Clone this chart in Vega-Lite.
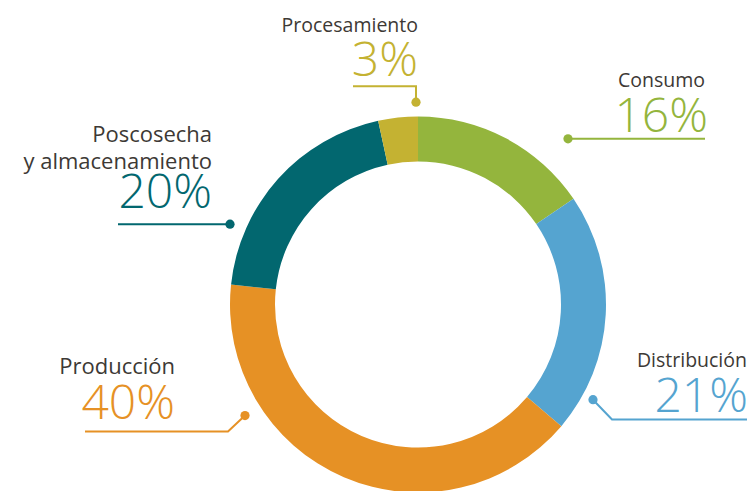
{
  "$schema": "https://vega.github.io/schema/vega-lite/v6.json",
  "width": 755,
  "height": 491,
  "autosize": {"type": "fit", "contains": "padding"},
  "padding": 0,
  "background": "white",
  "config": {"view": {"stroke": null}, "text": {"font": "Open Sans"}},
  "datasets": {
    "sectores": [
      {"categoria": "Consumo", "porcentaje": 15.5, "orden": 1},
      {"categoria": "Distribución", "porcentaje": 20.7, "orden": 2},
      {"categoria": "Producción", "porcentaje": 40.5, "orden": 3},
      {"categoria": "Poscosecha y almacenamiento", "porcentaje": 19.9, "orden": 4},
      {"categoria": "Procesamiento", "porcentaje": 3.4, "orden": 5}
    ],
    "etiquetas": [
      {"categoria": "Procesamiento", "etiqueta": "Procesamiento", "pct": "3%", "ex": 0, "ey": 275, "px": 0, "py": 230, "dx": -2, "dy": 204},
      {"categoria": "Consumo", "etiqueta": "Consumo", "pct": "16%", "ex": 287, "ey": 219, "px": 290, "py": 174, "dx": 150, "dy": 167},
      {"categoria": "Poscosecha y almacenamiento", "etiqueta": "Poscosecha\ny almacenamiento", "pct": "20%", "ex": -206, "ey": 164, "px": -206, "py": 97, "dx": -188, "dy": 81},
      {"categoria": "Producción", "etiqueta": "Producción", "pct": "40%", "ex": -243, "ey": -70, "px": -243, "py": -115, "dx": -173, "dy": -112},
      {"categoria": "Distribución", "etiqueta": "Distribución", "pct": "21%", "ex": 329, "ey": -63, "px": 330, "py": -108, "dx": 175, "dy": -96}
    ],
    "lineas": [
      {"categoria": "Procesamiento", "paso": 1, "x": -65, "y": 220},
      {"categoria": "Procesamiento", "paso": 2, "x": -2, "y": 220},
      {"categoria": "Procesamiento", "paso": 3, "x": -2, "y": 204},
      {"categoria": "Consumo", "paso": 1, "x": 150, "y": 167},
      {"categoria": "Consumo", "paso": 2, "x": 287, "y": 167},
      {"categoria": "Poscosecha y almacenamiento", "paso": 1, "x": -300, "y": 81},
      {"categoria": "Poscosecha y almacenamiento", "paso": 2, "x": -188, "y": 81},
      {"categoria": "Producción", "paso": 1, "x": -333, "y": -128},
      {"categoria": "Producción", "paso": 2, "x": -190, "y": -128},
      {"categoria": "Producción", "paso": 3, "x": -173, "y": -112},
      {"categoria": "Distribución", "paso": 1, "x": 175, "y": -96},
      {"categoria": "Distribución", "paso": 2, "x": 194, "y": -116},
      {"categoria": "Distribución", "paso": 3, "x": 329, "y": -116}
    ]
  },
  "resolve": {"scale": {"x": "shared", "y": "shared", "color": "shared"}},
  "layer": [
    {
      "data": {"name": "sectores"},
      "mark": {"type": "arc", "innerRadius": 143, "outerRadius": 188},
      "encoding": {
        "x": {"datum": 0, "type": "quantitative", "scale": {"domain": [-418, 337], "nice": false, "zero": false}, "axis": null},
        "y": {"datum": 0, "type": "quantitative", "scale": {"domain": [-184, 307], "nice": false, "zero": false}, "axis": null},
        "theta": {"field": "porcentaje", "type": "quantitative", "stack": true},
        "order": {"field": "orden", "type": "quantitative"},
        "color": {
          "field": "categoria", "type": "nominal", "legend": null,
          "scale": {
            "domain": ["Consumo", "Distribución", "Producción", "Poscosecha y almacenamiento", "Procesamiento"],
            "range": ["#94b53d", "#55a4d0", "#e69125", "#02676f", "#c4b232"]
          }
        }
      }
    },
    {
      "data": {"name": "lineas"},
      "mark": {"type": "line", "strokeWidth": 2},
      "encoding": {
        "x": {"field": "x", "type": "quantitative", "axis": null},
        "y": {"field": "y", "type": "quantitative", "axis": null},
        "detail": {"field": "categoria"},
        "order": {"field": "paso", "type": "quantitative"},
        "color": {"field": "categoria", "type": "nominal", "legend": null}
      }
    },
    {
      "data": {"name": "etiquetas"},
      "mark": {"type": "point", "filled": true, "opacity": 1, "size": 85},
      "encoding": {
        "x": {"field": "dx", "type": "quantitative", "axis": null},
        "y": {"field": "dy", "type": "quantitative", "axis": null},
        "color": {"field": "categoria", "type": "nominal", "legend": null}
      }
    },
    {
      "data": {"name": "etiquetas"},
      "mark": {"type": "text", "align": "right", "baseline": "alphabetic", "lineBreak": "\n", "lineHeight": 27, "color": "#3d3935"},
      "encoding": {
        "x": {"field": "ex", "type": "quantitative", "axis": null},
        "y": {"field": "ey", "type": "quantitative", "axis": null},
        "text": {"field": "etiqueta"},
        "size": {"condition": {"test": "datum.categoria === 'Producción' || datum.categoria === 'Poscosecha y almacenamiento'", "value": 22}, "value": 19.5}
      }
    },
    {
      "data": {"name": "etiquetas"},
      "mark": {"type": "text", "align": "right", "baseline": "alphabetic", "fontSize": 48, "fontWeight": 300},
      "encoding": {
        "x": {"field": "px", "type": "quantitative", "axis": null},
        "y": {"field": "py", "type": "quantitative", "axis": null},
        "text": {"field": "pct"},
        "color": {"field": "categoria", "type": "nominal", "legend": null}
      }
    }
  ]
}
